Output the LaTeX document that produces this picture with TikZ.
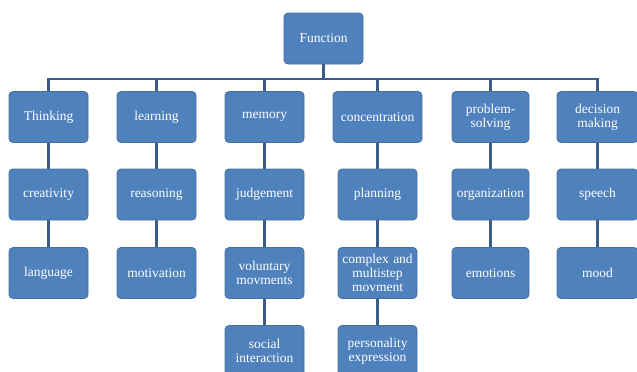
\documentclass[tikz,border=0pt]{standalone}
\usepackage{fontspec}
\setmainfont{Liberation Serif}
\definecolor{boxfill}{HTML}{4F81BD}
\definecolor{boxedge}{HTML}{42719F}
\definecolor{linkcol}{HTML}{3E5C87}
\begin{document}
\begin{tikzpicture}[x=1pt,y=-1pt,
  box/.style={draw=boxedge,line width=0.8pt,fill=boxfill,rounded corners=4pt,
    text=white,font=\fontsize{13.5}{14}\selectfont,align=center,
    minimum width=79pt,minimum height=51pt,inner sep=1pt,text width=77pt},
  link/.style={draw=linkcol,line width=2.6pt}]
\useasboundingbox (0,0) rectangle (637,372);
\begin{scope}
\clip (0,0) rectangle (637,372);
\node[box] (f) at (323.5,38.5) {Function};
% row 1
\node[box] (a1) at (48.5,117) {Thinking};
\node[box] (b1) at (156.5,117) {learning};
\node[box] (c1) at (264.5,117) {memory};
\node[box,minimum width=89pt,text width=87pt] (d1) at (377.5,117) {concentration};
\node[box,minimum width=77pt,text width=75pt] (e1) at (490.5,117) {problem-\\solving};
\node[box,minimum width=81pt,text width=79pt] (g1) at (597.5,117) {decision\\making};
% row 2
\node[box] (a2) at (48.5,194.5) {creativity};
\node[box] (b2) at (156.5,194.5) {reasoning};
\node[box] (c2) at (264.5,194.5) {judgement};
\node[box] (d2) at (377.5,194.5) {planning};
\node[box,minimum width=77pt,text width=75pt] (e2) at (490.5,194.5) {organization};
\node[box,minimum width=81pt,text width=79pt] (g2) at (597.5,194.5) {speech};
% row 3
\node[box] (a3) at (48.5,273) {language};
\node[box] (b3) at (156.5,273) {motivation};
\node[box] (c3) at (264.5,273) {voluntary\\movments};
\node[box] (d3) at (377.5,273) {complex and\\multistep\\movment};
\node[box,minimum width=77pt,text width=75pt] (e3) at (490.5,273) {emotions};
\node[box,minimum width=81pt,text width=79pt] (g3) at (597.5,273) {mood};
% row 4
\node[box] (c4) at (264.5,351) {social\\interaction};
\node[box] (d4) at (377.5,351) {personality\\expression};
\end{scope}
\coordinate (bus) at (0,79);
\draw[link] (f.south) -- (f.south |- bus);
\draw[link] (a1.north) -- (a1.north |- bus) -- (g1.north |- bus) -- (g1.north);
\foreach \n in {b1,c1,d1,e1}{\draw[link] (\n.north) -- (\n.north |- bus);}
\foreach \u/\v in {a1/a2,a2/a3,b1/b2,b2/b3,c1/c2,c2/c3,c3/c4,d1/d2,d2/d3,d3/d4,e1/e2,e2/e3,g1/g2,g2/g3}{
  \draw[link] (\u.south) -- (\v.north);}
\end{tikzpicture}
\end{document}
